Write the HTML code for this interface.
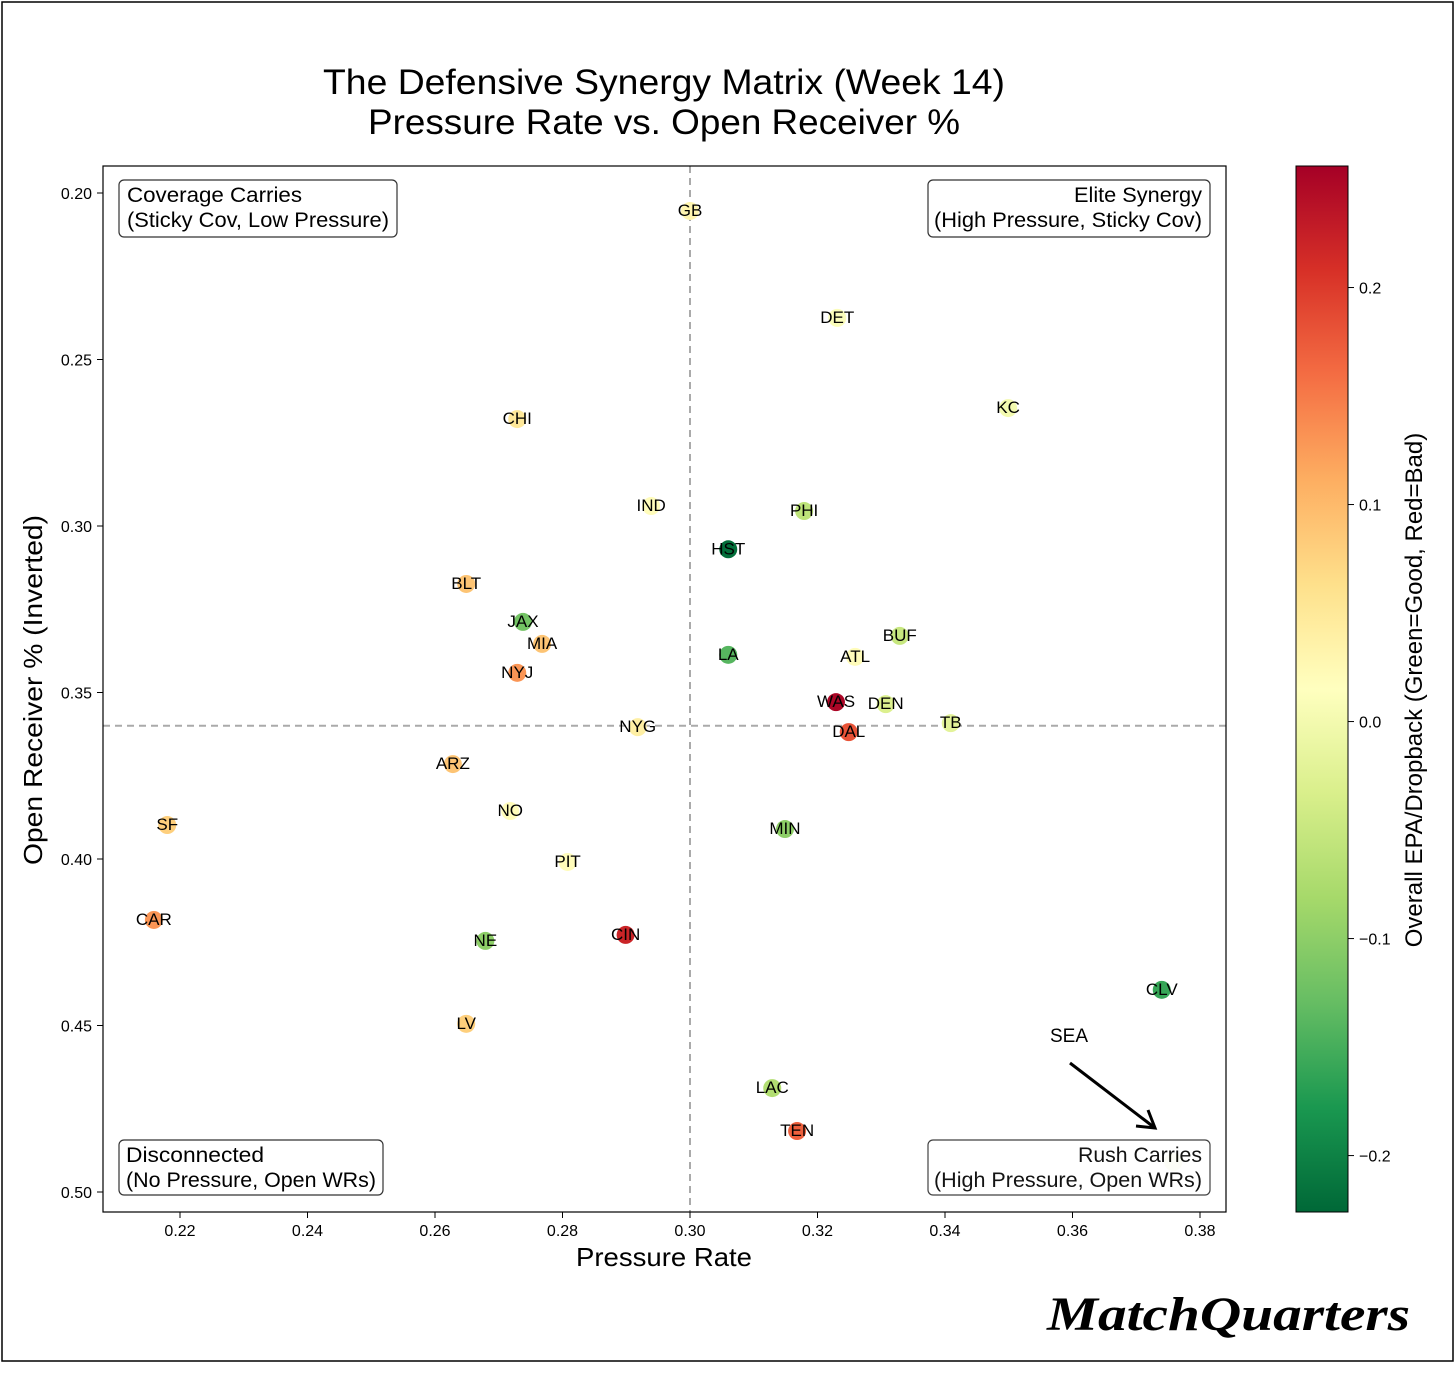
<!DOCTYPE html>
<html><head><meta charset="utf-8"><style>
html,body{margin:0;padding:0;background:#fff;}
svg text{font-family:"Liberation Sans",sans-serif;}
</style></head><body>
<svg id="chart" width="1456" height="1368" xmlns="http://www.w3.org/2000/svg">
<defs>
<linearGradient id="cbg" x1="0" y1="1" x2="0" y2="0"></linearGradient>
<marker id="ah" markerWidth="8" markerHeight="8" refX="7" refY="4" orient="auto" markerUnits="userSpaceOnUse" viewBox="0 0 8 8"><path d="M0,0 L8,4 L0,8" fill="none" stroke="#000" stroke-width="1.2"/></marker>
</defs>
<rect x="2" y="2" width="1451" height="1359" fill="#fff" stroke="#000" stroke-width="1.5"/>
<text x="664" y="94" font-size="35" text-anchor="middle" textLength="682" lengthAdjust="spacingAndGlyphs">The Defensive Synergy Matrix (Week 14)</text>
<text x="664" y="134" font-size="35" text-anchor="middle" textLength="592" lengthAdjust="spacingAndGlyphs">Pressure Rate vs. Open Receiver %</text>
<g id="plot"></g>
<rect x="103" y="166" width="1123" height="1046" fill="none" stroke="#000" stroke-width="1.2"/>
<text x="664" y="1266" font-size="26" text-anchor="middle" textLength="176" lengthAdjust="spacingAndGlyphs">Pressure Rate</text>
<text transform="translate(42,690) rotate(-90)" font-size="26" text-anchor="middle" textLength="350" lengthAdjust="spacingAndGlyphs">Open Receiver % (Inverted)</text>
<g id="cbar"></g>
<text transform="translate(1422,690) rotate(-90)" font-size="24" text-anchor="middle">Overall EPA/Dropback (Green=Good, Red=Bad)</text>
<g>
<rect x="119" y="180" width="278" height="57" rx="5" fill="#fff" stroke="#333" stroke-width="1.2"/>
<text x="127" y="202" font-size="21" textLength="175" lengthAdjust="spacingAndGlyphs">Coverage Carries</text>
<text x="127" y="227" font-size="21" textLength="262" lengthAdjust="spacingAndGlyphs">(Sticky Cov, Low Pressure)</text></g>
<g>
<rect x="928" y="180" width="282" height="57" rx="5" fill="#fff" stroke="#333" stroke-width="1.2"/>
<text x="1202" y="202" font-size="21" text-anchor="end" textLength="128" lengthAdjust="spacingAndGlyphs">Elite Synergy</text>
<text x="1202" y="227" font-size="21" text-anchor="end" textLength="268" lengthAdjust="spacingAndGlyphs">(High Pressure, Sticky Cov)</text></g>
<g>
<text x="1069" y="1042" font-size="19" text-anchor="middle">SEA</text>
<line x1="1070" y1="1063" x2="1155" y2="1128" stroke="#000" stroke-width="3" marker-end="url(#ah)"/>
<path d="M1136,1126 L1155,1128 L1148,1110" fill="none" stroke="#000" stroke-width="3"/></g>
<g>
<rect x="119" y="1140" width="264" height="55" rx="5" fill="#fff" stroke="#333" stroke-width="1.2"/>
<text x="126" y="1162" font-size="21" textLength="138" lengthAdjust="spacingAndGlyphs">Disconnected</text>
<text x="126" y="1187" font-size="21" textLength="250" lengthAdjust="spacingAndGlyphs">(No Pressure, Open WRs)</text></g>
<g opacity="0.92">
<rect x="928" y="1140" width="282" height="55" rx="5" fill="#fff" stroke="#333" stroke-width="1.2"/>
<text x="1202" y="1162" font-size="21" text-anchor="end" textLength="124" lengthAdjust="spacingAndGlyphs">Rush Carries</text>
<text x="1202" y="1187" font-size="21" text-anchor="end" textLength="268" lengthAdjust="spacingAndGlyphs">(High Pressure, Open WRs)</text></g>
<text x="1410" y="1330" font-size="48" font-weight="bold" font-style="italic" text-anchor="end" textLength="363" lengthAdjust="spacingAndGlyphs" style="font-family:'Liberation Serif',serif">MatchQuarters</text>
</svg>
<script>
const teams=["GB","DET","KC","CHI","IND","PHI","HST","BLT","JAX","MIA","NYJ","LA","BUF","ATL","WAS","DEN","DAL","TB","NYG","ARZ","NO","SF","MIN","PIT","CAR","NE","CIN","CLV","LV","LAC","TEN","SEA"];
const pressure=[0.300,0.3231,0.3499,0.2729,0.2939,0.3179,0.306,0.2649,0.2738,0.2768,0.2729,0.306,0.3329,0.3259,0.3229,0.3307,0.3249,0.3409,0.2918,0.2628,0.2718,0.218,0.3149,0.2808,0.2159,0.2679,0.2899,0.374,0.2649,0.3129,0.3168,0.3758];
const openRec=[0.2054,0.2375,0.2646,0.2679,0.294,0.2955,0.307,0.3174,0.3288,0.3354,0.3441,0.3387,0.333,0.3393,0.3529,0.3535,0.3619,0.3592,0.3604,0.3715,0.3856,0.3898,0.391,0.4009,0.4183,0.4246,0.4228,0.4393,0.4495,0.4688,0.4817,0.491];
const epa=[0.03,0.01,0.0,0.05,0.02,-0.06,-0.22,0.09,-0.12,0.09,0.13,-0.14,-0.05,0.02,0.25,-0.03,0.18,-0.02,0.04,0.09,0.02,0.08,-0.10,0.02,0.13,-0.10,0.22,-0.16,0.08,-0.07,0.17,-0.03];
const xTicks=[0.22,0.24,0.26,0.28,0.30,0.32,0.34,0.36,0.38];
const yTicks=[0.20,0.25,0.30,0.35,0.40,0.45,0.50];
const cTicks=[0.2,0.1,0.0,-0.1,-0.2];
const xMid=0.30, yMid=0.36;
const NS="http://www.w3.org/2000/svg";
const X=v=>180+(v-0.22)*6375, Y=v=>193+(v-0.20)*3330;
const vmin=-0.226,vmax=0.256, C=v=>1212-(v-vmin)/(vmax-vmin)*1046;
const stops=["#a50026","#d73027","#f46d43","#fdae61","#fee08b","#ffffbf","#d9ef8b","#a6d96a","#66bd63","#1a9850","#006837"];
function hex(h){return [1,3,5].map(i=>parseInt(h.substr(i,2),16));}
function cmap(v){let t=1-(v-vmin)/(vmax-vmin);t=Math.max(0,Math.min(1,t));const p=t*10,i=Math.min(9,Math.floor(p)),f=p-i;const a=hex(stops[i]),b=hex(stops[i+1]);return "rgb("+a.map((c,k)=>Math.round(c+(b[k]-c)*f)).join(",")+")";}
function mk(tag,attrs,parent){const e=document.createElementNS(NS,tag);for(const k in attrs)e.setAttribute(k,attrs[k]);parent.appendChild(e);return e;}
const plot=document.getElementById("plot"),svg=document.getElementById("chart");
xTicks.forEach(v=>{const l=mk("line",{x1:X(v),x2:X(v),y1:1212,y2:1218,stroke:"#000"},svg);


const t=mk("text",{x:X(v),y:1236,"font-size":16,"text-anchor":"middle"},svg);t.textContent=v.toFixed(2);

});
yTicks.forEach(v=>{const l=mk("line",{x1:97,x2:103,y1:Y(v),y2:Y(v),stroke:"#000"},svg);


const t=mk("text",{x:92,y:Y(v)+6,"font-size":16,"text-anchor":"end"},svg);t.textContent=v.toFixed(2);

});
const vl=mk("line",{x1:X(xMid),x2:X(xMid),y1:166,y2:1212,stroke:"#aaa","stroke-width":2,"stroke-dasharray":"7,5"},plot);


const hl=mk("line",{x1:103,x2:1226,y1:Y(yMid),y2:Y(yMid),stroke:"#aaa","stroke-width":2,"stroke-dasharray":"7,5"},plot);


teams.forEach((tm,i)=>{const c=mk("circle",{cx:X(pressure[i]),cy:Y(openRec[i]),r:9,fill:cmap(epa[i])},plot);


if(tm!=="SEA"){const t=mk("text",{x:X(pressure[i]),y:Y(openRec[i])+5,"font-size":17,"text-anchor":"middle"},plot);t.textContent=tm;

}});
const g=document.getElementById("cbg");
for(let k=0;k<=20;k++){const v=vmin+(vmax-vmin)*k/20;mk("stop",{offset:(k/20*100)+"%","stop-color":cmap(v)},g);}
const cb=document.getElementById("cbar");
const r=mk("rect",{x:1296,y:166,width:52,height:1046,fill:"url(#cbg)",stroke:"#000","stroke-width":1},cb);


cTicks.forEach(v=>{const l=mk("line",{x1:1348,x2:1354,y1:C(v),y2:C(v),stroke:"#000"},cb);


const t=mk("text",{x:1359,y:C(v)+6,"font-size":16},cb);t.textContent=(v<0?"\u2212":"")+Math.abs(v).toFixed(1);

});
</script>
</body></html>
